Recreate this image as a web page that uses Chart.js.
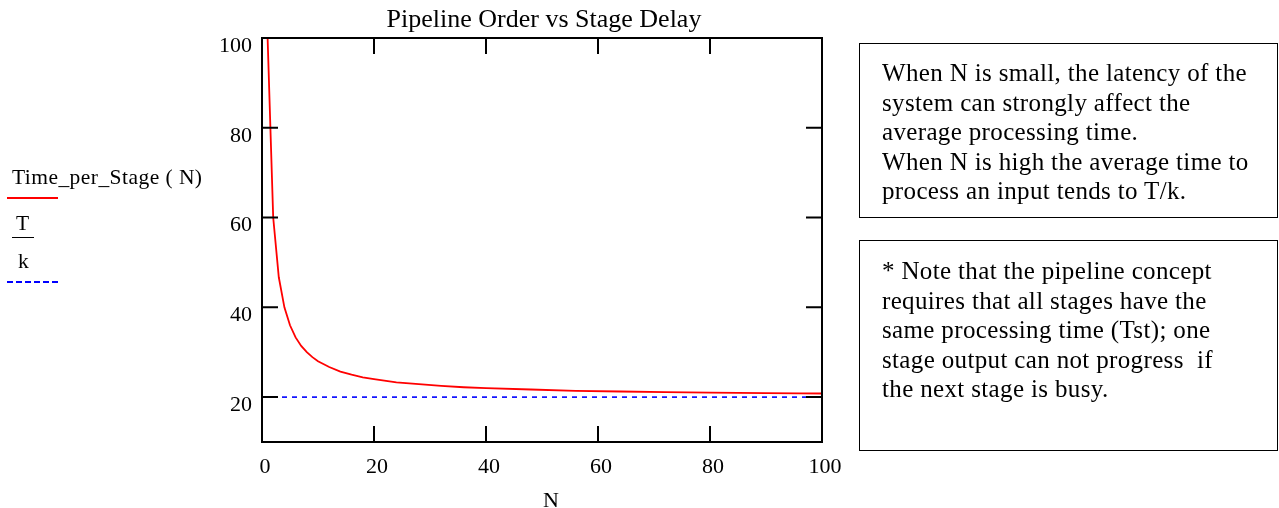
<!DOCTYPE html>
<html>
<head>
<meta charset="utf-8">
<script src="https://cdn.jsdelivr.net/npm/chart.js@4.4.1/dist/chart.umd.min.js"></script>
<style>
  html, body { margin: 0; padding: 0; background: #fff; }
  body { width: 1279px; height: 508px; position: relative; overflow: hidden;
         font-family: "Liberation Serif", "Times New Roman", serif; color: #000; }
  #wrap { position: absolute; left: 0; top: 0; width: 1279px; height: 508px; }
  .note { position: absolute; border: 1.5px solid #000; box-sizing: border-box;
          font-size: 25px; letter-spacing: 0.35px; line-height: 29.5px; padding-left: 22px; white-space: nowrap; }
  .leg { position: absolute; font-size: 21.5px; letter-spacing: 0.45px; line-height: 1; white-space: nowrap; }
  .swatch { position: absolute; height: 0; }
</style>
</head>
<body>
<div id="wrap"><canvas id="chart" width="1279" height="508"></canvas></div>

<!-- left legend -->
<div class="leg" style="left:12px; top:167px;">Time_per_Stage ( N)</div>
<div class="swatch" style="left:7px; top:197px; width:51px; border-top:2px solid #f00;"></div>
<div class="leg" style="left:16px; top:213px;">T</div>
<div class="swatch" style="left:12px; top:237px; width:22px; border-top:1.5px solid #000;"></div>
<div class="leg" style="left:18px; top:251px;">k</div>
<div class="swatch" style="left:7px; top:281px; width:51px; border-top:2px dashed #00f;"></div>

<!-- notes -->
<div class="note" style="left:859px; top:43px; width:419px; height:175px; padding-top:14px;">
  When N is small, the latency of the<br>system can strongly affect the<br>average processing time.<br>When N is high the average time to<br>process an input tends to T/k.
</div>
<div class="note" style="left:859px; top:240px; width:419px; height:211px; padding-top:15px;">
  * Note that the pipeline concept<br>requires that all stages have the<br>same processing time (Tst); one<br>stage output can not progress&nbsp; if<br>the next stage is busy.
</div>

<script>
// ── Data ──────────────────────────────────────────────────────────────────────
const nValues = [1, 2, 3, 4, 5, 6, 7, 8, 9, 10, 12, 14, 16, 18, 20, 24, 28, 32, 36, 40, 48, 56, 64, 72, 80, 90, 96, 100];
const timePerStage = [100, 60, 46.7, 40, 36, 33.3, 31.4, 30, 28.9, 28, 26.7, 25.7, 25, 24.4, 24, 23.3, 22.9, 22.5, 22.2, 22, 21.7, 21.4, 21.25, 21.1, 21, 20.9, 20.85, 20.8];
const tOverK = 20;
const nRange = [0, 100];
const xTicks = [0, 20, 40, 60, 80, 100];
const yTicks = [20, 40, 60, 80, 100];
const yRange = [10, 100];

const serif = '"Liberation Serif", "Times New Roman", serif';

// ── Frame + inward ticks + title + axis label ────────────────────────────────
const framePlugin = {
  id: "frame",
  afterDatasetsDraw(chart) {
    const { ctx, chartArea: a, scales: { x, y } } = chart;
    ctx.save();
    ctx.strokeStyle = "#000";
    ctx.lineWidth = 2;
    ctx.strokeRect(a.left, a.top, a.right - a.left, a.bottom - a.top);
    ctx.beginPath();
    const len = 16;
    xTicks.forEach(v => {
      const px = x.getPixelForValue(v);
      ctx.moveTo(px, a.bottom); ctx.lineTo(px, a.bottom - len);
      ctx.moveTo(px, a.top); ctx.lineTo(px, a.top + len);
    });
    yTicks.forEach(v => {
      const py = y.getPixelForValue(v);
      ctx.moveTo(a.left, py); ctx.lineTo(a.left + len, py);
      ctx.moveTo(a.right, py); ctx.lineTo(a.right - len, py);
    });
    ctx.stroke();
    ctx.fillStyle = "#000";
    ctx.textAlign = "center";
    ctx.textBaseline = "middle";
    ctx.font = "26px " + serif;
    ctx.fillText("Pipeline Order vs Stage Delay", (a.left + a.right) / 2 + 2, 20);
    ctx.font = "22px " + serif;
    ctx.fillText("N", (a.left + a.right) / 2 + 9, 501);
    ctx.restore();
  },
};

new Chart(document.getElementById("chart"), {
  type: "line",
  data: {
    datasets: [
      {
        label: "Time_per_Stage ( N)",
        data: nValues.map((n, i) => ({ x: n, y: timePerStage[i] })),
        borderColor: "#ff0000",
        borderWidth: 1.8,
        pointRadius: 0,
        tension: 0,
      },
      {
        label: "T/k",
        data: nRange.map(n => ({ x: n, y: tOverK })),
        borderColor: "#0000ff",
        borderWidth: 1.6,
        borderDash: [5, 5],
        pointRadius: 0,
      },
    ],
  },
  options: {
    responsive: false,
    animation: false,
    layout: { padding: { left: 200, right: 457, top: 38, bottom: 0 } },
    plugins: { legend: { display: false }, tooltip: { enabled: false } },
    scales: {
      x: {
        type: "linear",
        min: nRange[0],
        max: nRange[1],
        afterBuildTicks: s => { s.ticks = xTicks.map(v => ({ value: v })); },
        afterFit: s => { s.height = 66; },
        grid: { display: false, drawTicks: false },
        border: { display: false },
        ticks: { color: "#000", font: { family: serif, size: 22 }, padding: 12, labelOffset: 3, maxRotation: 0 },
      },
      y: {
        min: yRange[0],
        max: yRange[1],
        afterBuildTicks: s => { s.ticks = yTicks.map(v => ({ value: v })); },
        afterFit: s => { s.width = 62; },
        grid: { display: false, drawTicks: false },
        border: { display: false },
        ticks: { color: "#000", font: { family: serif, size: 22 }, padding: 10, labelOffset: 8 },
      },
    },
  },
  plugins: [framePlugin],
});
</script>
</body>
</html>
